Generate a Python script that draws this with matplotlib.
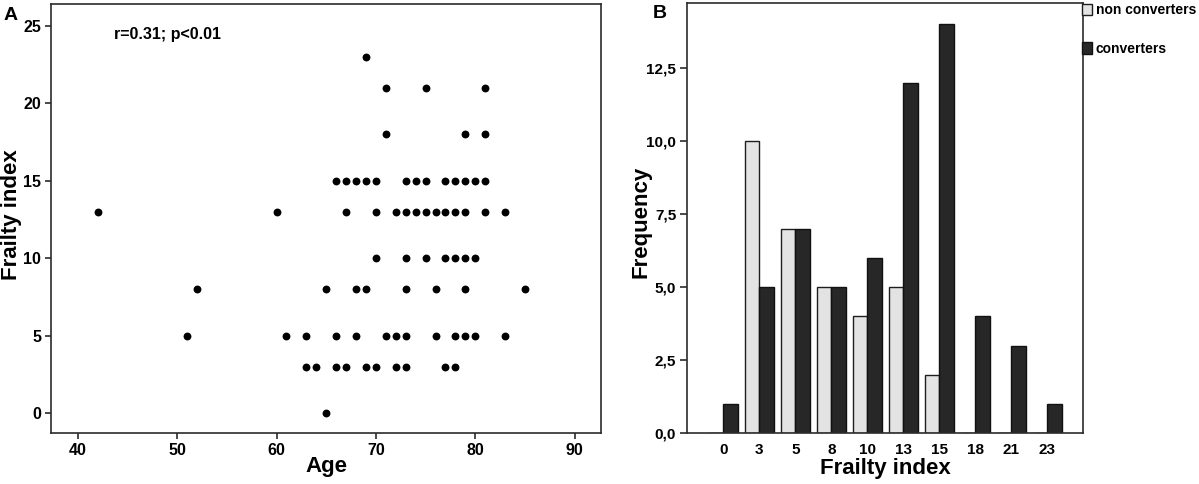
import numpy as np
import matplotlib
matplotlib.use("Agg")
import matplotlib.pyplot as plt

plt.rcParams['font.family'] = ['Liberation Sans', 'DejaVu Sans']
plt.rcParams['font.weight'] = 'bold'

# panel A: age vs frailty index (one entry per subject)
age = [69,
       71, 75, 81,
       71, 79, 81,
       66, 67, 68, 69, 70, 73, 74, 75, 77, 78, 79, 80, 81,
       42, 60, 67, 70, 72, 73, 74, 75, 76, 77, 78, 79, 81, 83,
       70, 73, 75, 77, 78, 79, 80,
       52, 65, 68, 69, 73, 76, 79, 85,
       51, 61, 63, 66, 68, 71, 72, 73, 76, 78, 79, 80, 83,
       63, 64, 66, 67, 69, 70, 72, 73, 77, 78,
       65]
frailty = ([23] + [21] * 3 + [18] * 3 + [15] * 13 + [13] * 14 + [10] * 7
           + [8] * 8 + [5] * 13 + [3] * 10 + [0])
annot = "r=0.31; p<0.01"

# panel B: frequency by frailty index
fi_labels = ['0', '3', '5', '8', '10', '13', '15', '18', '21', '23']
non_conv = [0, 10, 7, 5, 4, 5, 2, 0, 0, 0]
conv = [1, 5, 7, 5, 6, 12, 14, 4, 3, 1]
freq_ticks = [0, 2.5, 5, 7.5, 10, 12.5]

W, H = 1199, 484
fig = plt.figure(figsize=(W / 100, H / 100), dpi=100)

def px_axes(l, t, r, b):
    return fig.add_axes([l / W, 1 - b / H, (r - l) / W, (b - t) / H])

spine_col = '#2b2b2b'

# ---- A ----
ax1 = px_axes(51, 3.5, 601, 433.3)
ax1.scatter(age, frailty, s=32, color='black', linewidths=0)
ax1.set_xlim(37.31, 92.65)
ax1.set_ylim(-1.3, 26.45)
ax1.set_xticks([40, 50, 60, 70, 80, 90])
ax1.set_yticks([0, 5, 10, 15, 20, 25])
ax1.tick_params(labelsize=11.5, length=4, width=1.2, pad=3, color=spine_col)
ax1.set_xlabel('Age', fontsize=16, fontweight='bold', va='center')
ax1.xaxis.set_label_coords(0.5, -0.078)
ax1.set_ylabel('Frailty index', fontsize=16, fontweight='bold', va='center')
ax1.yaxis.set_label_coords(-0.071, 0.508)
ax1.text(114, H - 34, annot, transform=None, fontsize=11.5, fontweight='bold',
         va='center', ha='left')
for sp in ax1.spines.values():
    sp.set_linewidth(1.2)
    sp.set_color(spine_col)

# ---- B ----
ax2 = px_axes(687.3, 3.3, 1083.3, 433.3)
x = np.arange(len(fi_labels))
w = 0.41
b1 = ax2.bar(x - w / 2, non_conv, width=w, color='#e3e3e3', edgecolor='#1e1e1e',
             linewidth=1.0, label='non converters')
b2 = ax2.bar(x + w / 2, conv, width=w, color='#272727', edgecolor='#111111',
             linewidth=1.0, label='converters')
ax2.set_xlim(-1, 10)
ax2.set_ylim(0, 14.72)
ax2.set_xticks(x)
ax2.set_xticklabels(fi_labels)
ax2.set_yticks(freq_ticks)
ax2.set_yticklabels([f"{v:.1f}".replace('.', ',') for v in freq_ticks])
ax2.tick_params(axis='y', labelsize=11, length=5, width=1.2, pad=3, color=spine_col)
ax2.tick_params(axis='x', labelsize=11, length=0, pad=7)
ax2.set_xlabel('Frailty index', fontsize=16, fontweight='bold', va='center')
ax2.xaxis.set_label_coords(0.5, -0.081)
ax2.set_ylabel('Frequency', fontsize=16, fontweight='bold', va='center')
ax2.yaxis.set_label_coords(-0.117, 0.491)
for sp in ax2.spines.values():
    sp.set_linewidth(1.2)
    sp.set_color(spine_col)

fig.legend(handles=[b1, b2], loc='upper left', bbox_to_anchor=(1081 / W, 1 - 2 / H),
           frameon=False, handlelength=0.7, handleheight=0.9,
           handletextpad=0.25, labelspacing=1.75, borderpad=0.1,
           borderaxespad=0, prop={'weight': 'bold', 'size': 10})

fig.text(11 / W, 1 - 15 / H, 'A', fontsize=14, fontweight='bold', ha='center', va='center')
fig.text(660 / W, 1 - 13 / H, 'B', fontsize=14, fontweight='bold', ha='center', va='center')

fig.savefig('out.png', dpi=100)
